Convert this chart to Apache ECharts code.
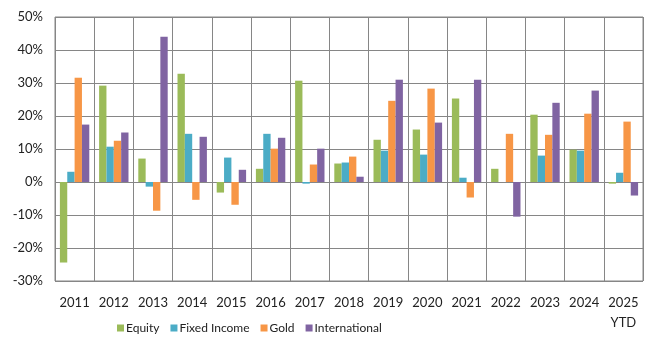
<!DOCTYPE html>
<html>
<head>
<meta charset="utf-8">
<script src="https://cdn.jsdelivr.net/npm/echarts@6/dist/echarts.min.js"></script>
<style>
  html, body { margin: 0; padding: 0; background: #fff; }
  #chart { width: 659px; height: 350px; }
</style>
</head>
<body>
<div id="chart"></div>
<script>
const years = ['2011', '2012', '2013', '2014', '2015', '2016', '2017', '2018',
  '2019', '2020', '2021', '2022', '2023', '2024', '2025\nYTD'];

// annual returns in %
const equity = [-24.4, 29.2, 7.1, 32.8, -3.2, 4.0, 30.7, 5.6, 12.8, 15.9, 25.3, 4.0, 20.4, 9.8, -0.5];
const fixedIncome = [3.1, 10.7, -1.4, 14.6, 7.4, 14.6, -0.5, 5.9, 9.5, 8.3, 1.3, 0, 8.0, 9.5, 2.8];
const gold = [31.6, 12.5, -8.7, -5.4, -6.9, 10.1, 5.3, 7.7, 24.6, 28.3, -4.7, 14.6, 14.3, 20.7, 18.3];
const international = [17.4, 15.0, 44.0, 13.7, 3.7, 13.4, 10.1, 1.6, 31.0, 18.0, 31.0, -10.5, 24.0, 27.7, -4.1];

const seriesNames = ['Equity', 'Fixed Income', 'Gold', 'International'];
const seriesColors = ['#9BBB59', '#4BACC6', '#F79646', '#8064A2'];
const seriesData = [equity, fixedIncome, gold, international];

const font = 'Lato, "Open Sans", sans-serif';
const gridColor = '#868686';

const chart = echarts.init(document.getElementById('chart'));
chart.setOption({
  animation: false,
  textStyle: { fontFamily: font },
  grid: {
    left: 55,
    right: 16,
    top: 17,
    bottom: 69,
    show: true,
    borderColor: gridColor,
    borderWidth: 1
  },
  legend: {
    bottom: 11,
    left: 112,
    icon: 'rect',
    itemWidth: 7,
    itemHeight: 7,
    itemGap: 11,
    textStyle: { fontSize: 12, color: '#222', fontFamily: font, padding: [0, 0, 0, -3] },
    data: seriesNames
  },
  xAxis: {
    type: 'category',
    data: years,
    axisLine: { show: false },
    axisTick: { show: false },
    splitLine: { show: true, lineStyle: { color: gridColor, width: 1 } },
    axisLabel: {
      color: '#222',
      fontSize: 13,
      fontFamily: font,
      margin: 12,
      lineHeight: 20,
      interval: 0,
      verticalAlign: 'top'
    }
  },
  yAxis: {
    type: 'value',
    min: -30,
    max: 50,
    interval: 10,
    axisLine: { show: false },
    axisTick: { show: false },
    splitLine: { show: true, lineStyle: { color: gridColor, width: 1 } },
    axisLabel: {
      formatter: '{value}%',
      color: '#222',
      fontSize: 13,
      fontFamily: font,
      margin: 12
    }
  },
  series: seriesNames.map(function (name, i) {
    return {
      name: name,
      type: 'bar',
      data: seriesData[i],
      barGap: '0%',
      barCategoryGap: '25%',
      itemStyle: { color: seriesColors[i] }
    };
  })
});
</script>
</body>
</html>
